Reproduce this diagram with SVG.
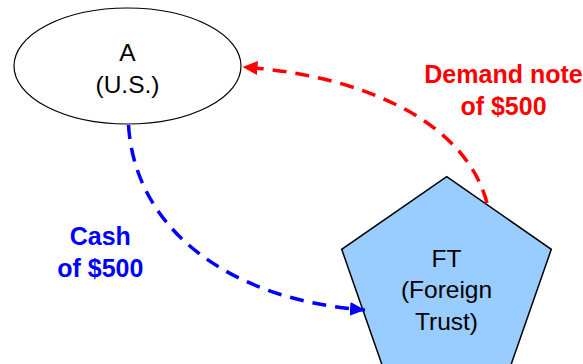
<svg xmlns="http://www.w3.org/2000/svg" width="583" height="364" viewBox="0 0 583 364">
<style>
.lbl{font-family:"Liberation Sans",Arial,sans-serif;font-size:24.5px;fill:#000;text-anchor:middle}
.edge{font-family:"Liberation Sans",Arial,sans-serif;font-size:25px;font-weight:bold;text-anchor:middle}
.conn{fill:none;stroke-width:3.5;stroke-dasharray:14 9}
</style>
<defs>
<marker id="arrB" markerUnits="userSpaceOnUse" markerWidth="16" markerHeight="16" viewBox="0 0 16 16" refX="15" refY="8" orient="auto">
<path d="M0,1 L15,8 L0,15 Z" fill="#0000FF"/>
</marker>
<marker id="arrR" markerUnits="userSpaceOnUse" markerWidth="16" markerHeight="16" viewBox="0 0 16 16" refX="15" refY="8" orient="auto">
<path d="M0,1 L15,8 L0,15 Z" fill="#FF0000"/>
</marker>
</defs>
<rect width="583" height="364" fill="#fff"/>
<g id="nodeA">
<ellipse cx="127.5" cy="66" rx="113.5" ry="58" fill="#fff" stroke="#000" stroke-width="1.2"/>
<text class="lbl" x="127.5" y="60.5">A</text>
<text class="lbl" x="127.5" y="92.5">(U.S.)</text>
</g>
<g id="nodeFT">
<polygon points="446.7,176.7 551.3,249.3 505.7,380 387.3,380 341.7,249.3" fill="#99CCFF" stroke="#000" stroke-width="1.5"/>
<text class="lbl" x="446.5" y="266.5">FT</text>
<text class="lbl" x="446.5" y="298">(Foreign</text>
<text class="lbl" x="446.5" y="329.5">Trust)</text>
</g>
<g id="connectors">
<path class="conn" stroke="#0000FF" d="M128.5,125 C135,230 230,300 365,310" marker-end="url(#arrB)"/>
<path class="conn" stroke="#FF0000" d="M487,203 C465,120 360,75 242.5,67" marker-end="url(#arrR)"/>
</g>
<g id="labels">
<text class="edge" fill="#0000FF" x="100.3" y="245">Cash</text>
<text class="edge" fill="#0000FF" x="100.3" y="276.7">of $500</text>
<text class="edge" fill="#FF0000" x="503.5" y="82.7">Demand note</text>
<text class="edge" fill="#FF0000" x="503.5" y="115">of $500</text>
</g>
</svg>
